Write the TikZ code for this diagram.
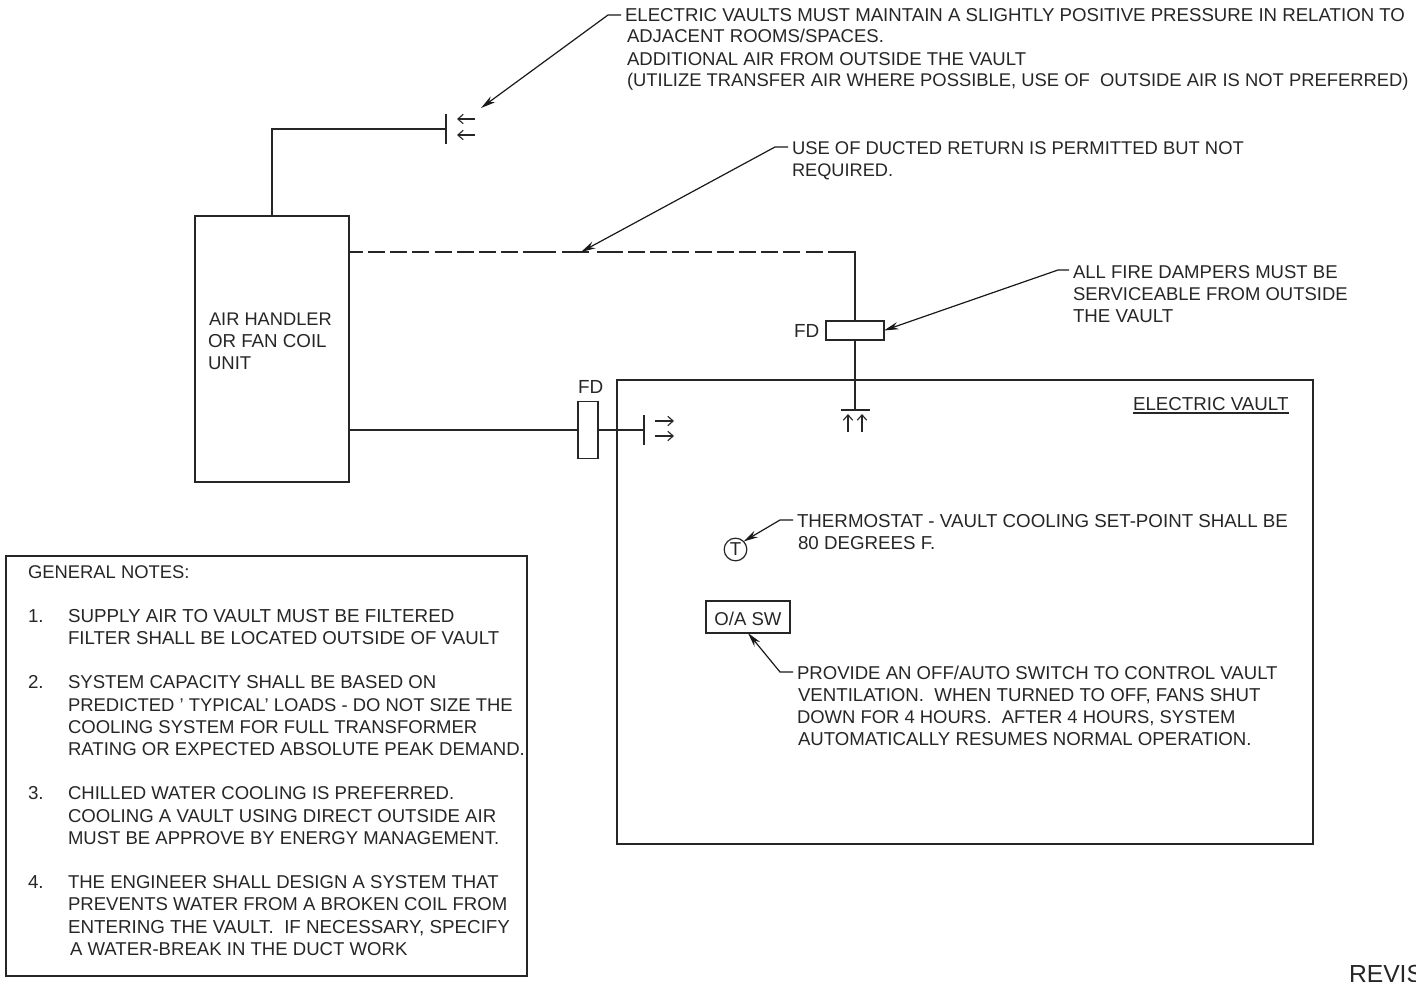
\documentclass[tikz,border=0pt]{standalone}
\usepackage{fontspec}
\setmainfont{Liberation Sans}
\usetikzlibrary{arrows.meta}
\tikzset{
  x=0.75pt,y=-0.75pt,
  txt/.style={anchor=base west,inner sep=0pt,outer sep=0pt,font=\fontsize{#1}{16}\selectfont,text=black!85},
  txt/.default=13.92,
  duct/.style={draw=black!85,line width=1.05pt},
  boxs/.style={draw=black!85,line width=0.95pt,fill=none,inner sep=0pt,outer sep=0pt},
  leader/.style={draw=black!90,line width=0.9pt,-{Stealth[length=11pt,width=5.5pt]}},
  open/.style={draw=black!85,line width=0.85pt,-{Straight Barb[length=4pt,width=7pt]}},
}
\begin{document}
\begin{tikzpicture}
\useasboundingbox (0,0) rectangle (1416,981);
% boxes
\node[boxs,minimum width=115.5pt,minimum height=199.5pt] (ahu) at (272,349) {};
\node[boxs,minimum width=522pt,minimum height=348pt] (vault) at (965,612) {};
\node[boxs,minimum width=390.75pt,minimum height=315pt] (notes) at (266.5,766) {};
\node[boxs,minimum width=15pt,minimum height=42.75pt,fill=white] (fdl) at (588,430) {};
\node[boxs,minimum width=43.5pt,minimum height=14.25pt,fill=white] (fdu) at (855,330.5) {};
\node[boxs,minimum width=63pt,minimum height=24pt] (oasw) at (748,617) {};
\node[circle,draw=black!85,line width=0.9pt,minimum size=17pt,inner sep=0pt,outer sep=0pt] (tstat) at (735.5,549.5) {};
\node[inner sep=0pt,font=\fontsize{14}{16}\selectfont,text=black!85] (tlabel) at (735.5,549.5) {T};
\node[inner sep=0pt,font=\fontsize{13.92}{16}\selectfont,text=black!85] (oalabel) at (748,618.5) {O/A SW};
% coordinates
\coordinate (supTop) at (272,129);
\coordinate (reg1) at (446,129);
\coordinate (reg1a) at (446,114);
\coordinate (reg1b) at (446,144);
\coordinate (d1) at (855,252);
\coordinate (d0) at (523,252);
\coordinate (da) at (556,252);
\coordinate (db) at (562,252);
\coordinate (dc) at (589,252);
\coordinate (dd) at (597,252);
\coordinate (de) at (623,252);
\coordinate (df) at (628,252);
\coordinate (dg) at (829,252);
\coordinate (reg2) at (644,430);
\coordinate (reg2a) at (644,415);
\coordinate (reg2b) at (644,445);
\coordinate (reg3) at (855,410);
\coordinate (reg3a) at (841,410);
\coordinate (reg3b) at (870,410);
% ducts
\draw[duct] (ahu.north) -- (supTop) -- (reg1);
\draw[duct] (reg1a) -- (reg1b);
\draw[duct,dash pattern=on 12.75pt off 3.9pt,dash phase=2.4pt] (ahu.east |- d1) -- (da);
\draw[duct] (d0) -- (da);
\draw[duct] (db) -- (dc);
\draw[duct] (dd) -- (de);
\draw[duct,dash pattern=on 12.75pt off 3.9pt] (df) -- (d1);
\draw[duct] (dg) -- (d1) -- (fdu.north);
\draw[duct] (ahu.east |- fdl.west) -- (fdl.west);
\draw[duct] (fdl.east) -- (reg2);
\draw[duct] (reg2a) -- (reg2b);
\draw[duct] (fdu.south) -- (reg3);
\draw[duct] (reg3a) -- (reg3b);
% diffuser arrows
\coordinate (a1) at (475,119); \coordinate (a1e) at (457,119);
\coordinate (a2) at (475,135); \coordinate (a2e) at (457,135);
\coordinate (a3) at (655,421); \coordinate (a3e) at (674,421);
\coordinate (a4) at (655,436); \coordinate (a4e) at (674,436);
\coordinate (a5) at (848,432); \coordinate (a5e) at (848,414);
\coordinate (a6) at (862,432); \coordinate (a6e) at (862,414);
\draw[open] (a1) -- (a1e);
\draw[open] (a2) -- (a2e);
\draw[open] (a3) -- (a3e);
\draw[open] (a4) -- (a4e);
\draw[open] (a5) -- (a5e);
\draw[open] (a6) -- (a6e);
% leaders
\coordinate (l1a) at (621,15); \coordinate (l1b) at (608,15); \coordinate (l1c) at (481,108);
\coordinate (l2a) at (788,147); \coordinate (l2b) at (775,147); \coordinate (l2c) at (581,252);
\coordinate (l3a) at (1069,270); \coordinate (l3b) at (1058,270);
\coordinate (l4a) at (793,520); \coordinate (l4b) at (780,520);
\coordinate (l5a) at (793,672); \coordinate (l5b) at (780,672);
\draw[leader] (l1a) -- (l1b) -- (l1c);
\draw[leader] (l2a) -- (l2b) -- (l2c);
\draw[leader] (l3a) -- (l3b) -- (fdu.east);
\draw[leader] (l4a) -- (l4b) -- (tstat.north east);
\draw[leader] (l5a) -- (l5b) -- (oasw.south);
% texts top
\node[txt=13.98] (t1) at (625,21.5) {ELECTRIC VAULTS MUST MAINTAIN A SLIGHTLY POSITIVE PRESSURE IN RELATION TO};
\node[txt=13.89] (t2) at (627,43) {ADJACENT ROOMS/SPACES.};
\node[txt=13.91] (t3) at (627,65) {ADDITIONAL AIR FROM OUTSIDE THE VAULT};
\node[txt=13.79] (t4) at (627,87) {(UTILIZE TRANSFER AIR WHERE POSSIBLE, USE OF\ \ OUTSIDE AIR IS NOT PREFERRED)};
\node[txt=13.8] (t5) at (792,154) {USE OF DUCTED RETURN IS PERMITTED BUT NOT};
\node[txt=13.65] (t6) at (792,176) {REQUIRED.};
\node[txt=13.9] (t7) at (1073,278) {ALL FIRE DAMPERS MUST BE};
\node[txt=13.85] (t8) at (1073,300) {SERVICEABLE FROM OUTSIDE};
\node[txt=14.05] (t9) at (1073,322) {THE VAULT};
\node[txt=14.2] (fdu1) at (794,337) {FD};
\node[txt=14.2] (fdl1) at (578,393) {FD};
\node[txt=13.7] (ah1) at (209,325) {AIR HANDLER};
\node[txt=14.05] (ah2) at (208,347) {OR FAN COIL};
\node[txt=13.9] (ah3) at (208,369) {UNIT};
\node[txt=14.05] (ev) at (1133,410) {ELECTRIC VAULT};
\coordinate (evu1) at (1133,413); \coordinate (evu2) at (1289,413);
\draw[draw=black!85,line width=0.8pt] (evu1) -- (evu2);
\node[txt=14.05] (s1) at (797,527) {THERMOSTAT - VAULT COOLING SET-POINT SHALL BE};
\node[txt=14.05] (s2) at (798,549) {80 DEGREES F.};
\node[txt=13.93] (p1) at (797,679) {PROVIDE AN OFF/AUTO SWITCH TO CONTROL VAULT};
\node[txt=13.99] (p2) at (798,701) {VENTILATION.\ \ WHEN TURNED TO OFF, FANS SHUT};
\node[txt=13.83] (p3) at (797,723) {DOWN FOR 4 HOURS.\ \ AFTER 4 HOURS, SYSTEM};
\node[txt=13.99] (p4) at (798,745) {AUTOMATICALLY RESUMES NORMAL OPERATION.};
% notes
\node[txt=13.8] (n0) at (28,578) {GENERAL NOTES:};
\node[txt=14.05] (n1) at (28,622) {1.};
\node[txt=14.08] (n1a) at (68,622) {SUPPLY AIR TO VAULT MUST BE FILTERED};
\node[txt=14.0] (n1b) at (68,644) {FILTER SHALL BE LOCATED OUTSIDE OF VAULT};
\node[txt=14.05] (n2) at (28,688) {2.};
\node[txt=13.94] (n2a) at (68,688) {SYSTEM CAPACITY SHALL BE BASED ON};
\node[txt=13.83] (n2b) at (68,711) {PREDICTED ' TYPICAL' LOADS - DO NOT SIZE THE};
\node[txt=13.88] (n2c) at (68,733) {COOLING SYSTEM FOR FULL TRANSFORMER};
\node[txt=13.93] (n2d) at (68,755) {RATING OR EXPECTED ABSOLUTE PEAK DEMAND.};
\node[txt=14.05] (n3) at (28,799) {3.};
\node[txt=13.9] (n3a) at (68,799) {CHILLED WATER COOLING IS PREFERRED.};
\node[txt=13.95] (n3b) at (68,822) {COOLING A VAULT USING DIRECT OUTSIDE AIR};
\node[txt=13.89] (n3c) at (68,844) {MUST BE APPROVE BY ENERGY MANAGEMENT.};
\node[txt=14.05] (n4) at (28,888) {4.};
\node[txt=13.92] (n4a) at (68,888) {THE ENGINEER SHALL DESIGN A SYSTEM THAT};
\node[txt=13.92] (n4b) at (68,910) {PREVENTS WATER FROM A BROKEN COIL FROM};
\node[txt=14.08] (n4c) at (68,933) {ENTERING THE VAULT.\ \ IF NECESSARY, SPECIFY};
\node[txt=13.93] (n4d) at (70,955) {A WATER-BREAK IN THE DUCT WORK};
\node[txt=18.5] (rev) at (1349,982) {REVIS};
\end{tikzpicture}
\end{document}
